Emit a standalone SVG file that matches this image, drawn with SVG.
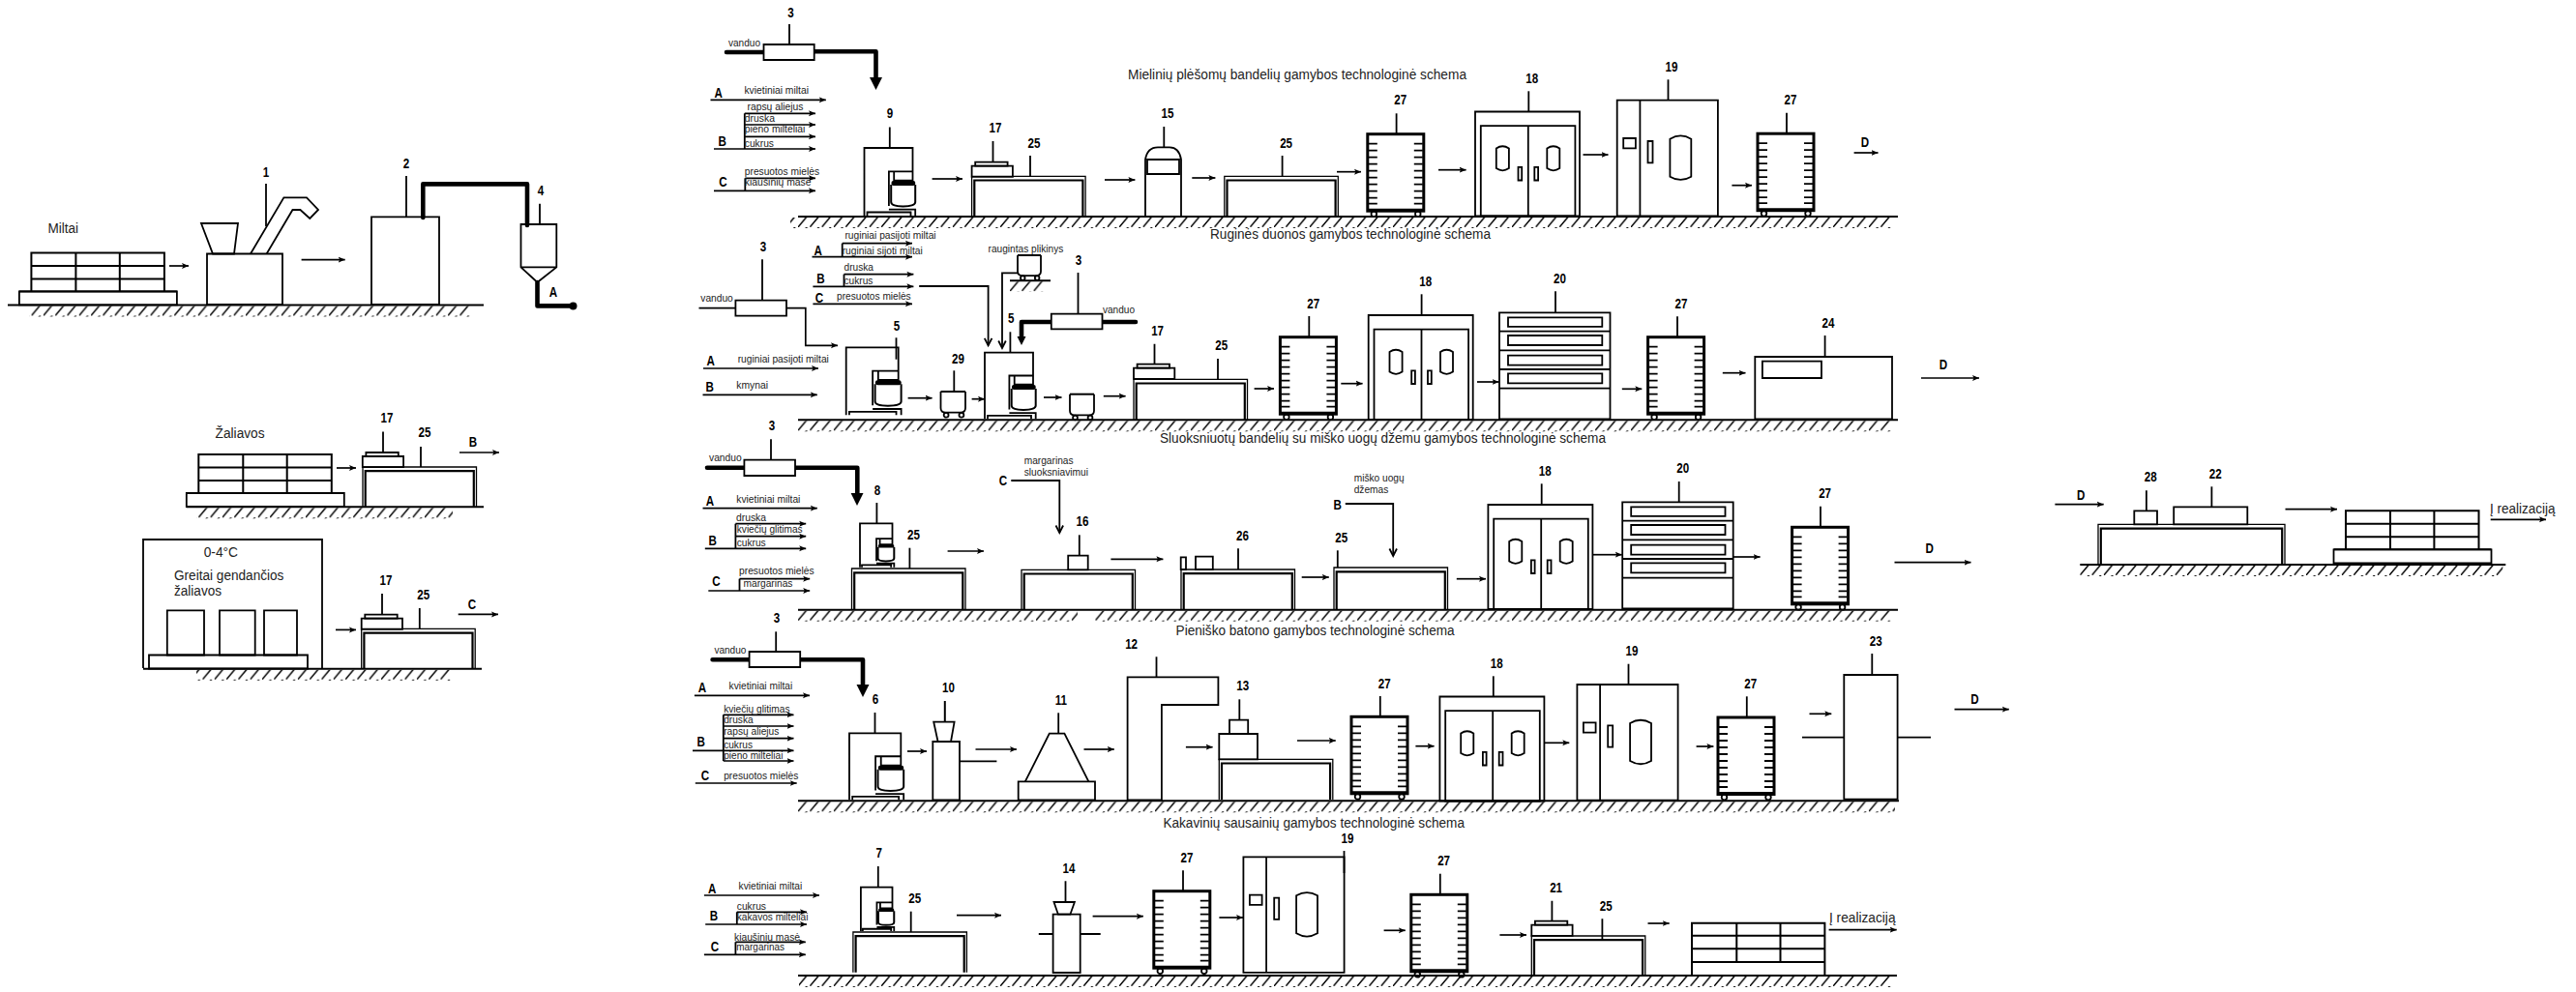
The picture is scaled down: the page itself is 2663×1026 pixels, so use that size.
<svg xmlns="http://www.w3.org/2000/svg" width="2663" height="1026" viewBox="0 0 2663 1026">
<style>
text{font-family:"Liberation Sans",Arial,sans-serif;fill:#222;dominant-baseline:central}
.s{font-size:11px}.m{font-size:14px}.h{font-size:14px}
.n{font-size:14.5px;font-weight:bold;fill:#000;text-anchor:middle}
.l,.a,.v,.g{fill:none;stroke:#000;stroke-width:1.8;vector-effect:non-scaling-stroke}
.f{fill:#fff;stroke:#000;stroke-width:1.8;vector-effect:non-scaling-stroke}
.a{stroke-width:1.7;marker-end:url(#ah)}
.v{marker-end:url(#av)}
.b{fill:none;stroke:#000;stroke-width:4.6;stroke-linecap:round;stroke-linejoin:round}
.k{fill:#000}
.r{fill:none;stroke:#000;stroke-width:3}
.g{stroke-width:2}
.o{fill:none;stroke:#000;stroke-width:1.3}
.i{fill:none;stroke:#000;stroke-width:2.2}
</style>
<defs>
<pattern id="h" patternUnits="userSpaceOnUse" width="12.3" height="11"><path d="M9.6 -.6L-.6 11.6" fill="none" stroke="#000" stroke-width="1.5"/></pattern>
<marker id="ah" markerUnits="userSpaceOnUse" markerWidth="10" markerHeight="8" refX="7" refY="4" orient="auto"><path d="M0 1L7 4L0 7L1.5 4z"/></marker>
<marker id="av" markerUnits="userSpaceOnUse" markerWidth="12" markerHeight="12" refX="10" refY="6" orient="auto" overflow="visible"><path d="M2.5 2.2L10 6L2.5 9.8" fill="none" stroke="#000" stroke-width="1.8"/></marker>
<g id="table"><path class="o" d="M0 41.7V0H117.5V41.7"/><path class="i" d="M2.7 41.7V4.2H114.8V41.7"/></g>
<g id="scale"><rect class="l" x="3.6" width="33.4" height="4"/><rect class="l" y="4" width="42.3" height="11.2"/></g>
<g id="stack"><rect class="l" x="-12.5" y="40" width="163" height="14"/><path class="g" d="M0 40V0H137.5V40M0 13.5H137.5M0 27H137.5M46 0V40M91.4 0V40M-12.5 40H150.5"/></g>
<g id="mixer"><path class="l" d="M0 70V0H50V24.3H25.4V60M30.7 24.3V33.7H50V24.3M25.4 63.7H52.7V70M3 70V66.5H48V70"/><path class="g" d="M27.7 38V56Q27.7 60.3 40 60.5Q52.7 60.3 52.7 56V38"/><rect class="k" x="28" y="34" width="24.7" height="5" rx="2"/></g>
<g id="rack"><rect class="r" x="0" y="0" width="58" height="79.5"/><path class="r" d="M0 78.5H58" stroke-width="4"/><path class="l" stroke-width="2" d="M1 10H10M1 17H10M1 24H10M1 31H10M1 38H10M1 45H10M1 52H10M1 59H10M1 66H10M1 72H10M48 10H57M48 17H57M48 24H57M48 31H57M48 38H57M48 45H57M48 52H57M48 59H57M48 66H57M48 72H57"/><circle class="l" cx="6.5" cy="82.6" r="2.8"/><circle class="l" cx="52" cy="82.6" r="2.8"/></g>
<g id="proof"><rect class="l" width="108" height="108"/><rect class="l" x="5.8" y="14.7" width="97.6" height="93.3"/><path class="l" d="M54.8 14.7V108"/><path class="l" d="M21.8 38Q28.3 33.5 34.9 38V58.6Q28.3 63 21.8 58.6Z"/><path class="l" d="M74.3 38Q80.8 33.5 87.3 38V58.6Q80.8 63 74.3 58.6Z"/><rect class="l" x="44.5" y="57.3" width="3.7" height="13.7"/><rect class="l" x="61.3" y="57.3" width="3.8" height="13.7"/></g>
<g id="oven"><rect class="l" width="104.2" height="119.6"/><path class="l" d="M23.7 0V119.6"/><rect class="l" x="6.5" y="39.3" width="12.7" height="10.3"/><rect class="l" x="31.8" y="42.3" width="5" height="22.3"/><path class="l" d="M54.7 40Q65.6 33.5 76.6 40V79Q65.6 85.5 54.7 79Z"/></g>
<g id="deck"><rect class="l" width="114.5" height="110"/><path class="l" d="M0 19.4H114.5M0 39H114.5M0 58.7H114.5M0 78.4H114.5"/><rect class="l" x="9" y="5" width="97.3" height="9.5"/><rect class="l" x="9" y="23.7" width="97.3" height="10"/><rect class="l" x="9" y="44.4" width="97.3" height="10"/><rect class="l" x="9" y="63" width="97.3" height="10"/></g>
<g id="tank"><path class="l" d="M0 0V17Q0 21.7 5 21.7H20Q25 21.7 25 17V0"/><path class="g" d="M0 0H25"/><circle class="l" cx="5.5" cy="24.3" r="2.4"/><circle class="l" cx="21" cy="24.3" r="2.4"/></g>
</defs>
<rect width="2663" height="1026" fill="#fff"/>

<g id="ground-lines">
<g transform="translate(8,315.5)"><path class="g" d="M0 0H492"/><rect x="22" y="1" width="456" height="11" fill="url(#h)"/></g>
<g transform="translate(193,524.3)"><path class="g" d="M0 0H307"/><rect x="10" y="1" width="265" height="11" fill="url(#h)"/></g>
<g transform="translate(148,691.8)"><path class="g" d="M0 0H350"/><rect x="55" y="1" width="264" height="11" fill="url(#h)"/></g>
<g transform="translate(825,224)"><path class="g" d="M0 0H1137"/><rect x="-8" y="1" width="1138" height="11" fill="url(#h)"/></g>
<g transform="translate(825,434.3)"><path class="g" d="M0 0H1137"/><rect x="-1" y="1" width="1131" height="11" fill="url(#h)"/></g>
<g transform="translate(825,630.7)"><path class="g" d="M0 0H1137"/><rect x="-1" y="1" width="290" height="11" fill="url(#h)"/><rect x="306" y="1" width="825" height="11" fill="url(#h)"/></g>
<g transform="translate(825,828.3)"><path class="g" d="M0 0H1138"/><rect x="-1" y="1" width="1135" height="11" fill="url(#h)"/></g>
<g transform="translate(825,1009)"><path class="g" d="M0 0H1136"/><rect x="1" y="1" width="1130" height="11" fill="url(#h)"/></g>
<g transform="translate(2150.3,584)"><path class="g" d="M0 0H440"/><rect y="1" width="437" height="11" fill="url(#h)"/></g>
<g transform="translate(1044,290.3)"><path class="g" d="M0 0H42"/><rect x="0" y="1" width="35" height="10" fill="url(#h)"/></g>
</g>

<g id="connectors">
<path class="a" d="M175 275H195"/><path class="a" d="M311.6 268.6H356.7"/>
<path class="a" d="M348 484H368"/><path class="a" d="M475 468H516"/>
<path class="a" d="M347 651.4H368"/><path class="a" d="M473.7 635.4H515"/>
<path class="b" d="M437.3 225V190.4H545V233"/><path class="b" d="M555.5 292V316.4H590"/><circle class="k" cx="592.5" cy="316.4" r="4"/>
<!-- section 1 -->
<path class="a" d="M734.5 103.3H853.8"/>
<path class="a" d="M769.8 117.3H843"/><path class="a" d="M769.8 129H843"/><path class="a" d="M769.8 141.3H843"/><path class="a" d="M738 154H843"/><path class="l" d="M769.8 117.3V154"/>
<path class="a" d="M770.3 184.3H843"/><path class="a" d="M738 197.3H843"/><path class="l" d="M770.3 184.3V197.3"/>
<path class="a" d="M963.6 185H995"/><path class="a" d="M1142 186H1173.4"/><path class="a" d="M1232.3 184H1256.4"/><path class="a" d="M1382 177.7H1407"/><path class="a" d="M1487 175.7H1515.6"/><path class="a" d="M1636.5 160H1662.5"/><path class="a" d="M1790.4 191.7H1811"/><path class="a" d="M1916.6 158H1941.5"/>
<!-- section 2 -->
<path class="a" d="M870.7 251.7H943"/><path class="a" d="M839.5 265.7H943"/><path class="l" d="M870.7 251.7V265.7"/>
<path class="a" d="M872.5 283.7H944.4"/><path class="a" d="M840.4 296.3H944.4"/><path class="l" d="M872.5 283.7V296.3"/>
<path class="a" d="M840.4 314.3H943"/>
<path class="v" d="M950.2 296H1021.6V357.3"/><path class="v" d="M1052 282.3H1036V360"/>
<path class="a" d="M722.5 318.7H760.4"  style="marker-end:none"/><path class="a" d="M813 318.7H832.8V357.3H866"/>
<path class="a" d="M727 381H846"/><path class="a" d="M726.5 408.3H844.8"/>
<path class="a" d="M938.6 411.7H963.6"/><path class="a" d="M1004.6 412.7H1018"/><path class="a" d="M1079 411H1097.5"/><path class="a" d="M1140.8 409.7H1163.6"/><path class="a" d="M1296.6 402H1317"/><path class="a" d="M1386.3 396.7H1408.6"/><path class="a" d="M1527 395H1549.6"/><path class="a" d="M1676.8 402.3H1697.3"/><path class="a" d="M1780.8 385.7H1804.5"/><path class="a" d="M1986 391H2046"/>
<!-- section 3 -->
<path class="a" d="M726.5 525.7H844.8"/>
<path class="a" d="M760.4 541.7H833.2"/><path class="a" d="M760.4 554.7H833.2"/><path class="a" d="M728.8 567.3H833.2"/><path class="l" d="M760.4 541.7V567.3"/>
<path class="a" d="M764.5 598.7H837.2"/><path class="a" d="M732.3 611H837.2"/><path class="l" d="M764.5 598.7V611"/>
<path class="a" d="M979.6 570H1017"/><path class="v" d="M1045.3 497H1095.3V551"/><path class="a" d="M1148.4 578.3H1202.4"/><path class="a" d="M1345.7 597H1373.8"/><path class="v" d="M1390.8 521H1440.2V575"/><path class="a" d="M1505.8 598.7H1536"/><path class="a" d="M1646.4 573.7H1676.8"/><path class="a" d="M1792 576H1819.6"/><path class="a" d="M1958.5 581.7H2037.5"/>
<!-- section 4 -->
<path class="a" d="M717.9 719.3H837"/>
<path class="a" d="M747.8 739.3H820.5"/><path class="a" d="M747.8 751H820.5"/><path class="a" d="M747.8 763.7H820.5"/><path class="a" d="M716 776.3H820.5"/><path class="a" d="M747.8 787H820.5"/><path class="l" d="M747.8 739.3V787"/>
<path class="a" d="M718.8 810H823.7"/>
<path class="a" d="M938 777H958"/><path class="a" d="M1008.5 775H1051"/><path class="a" d="M1120.5 775H1151.8"/><path class="a" d="M1225.9 772.7H1253.6"/><path class="a" d="M1341 766H1380.8"/><path class="a" d="M1463.4 771.7H1482.6"/><path class="a" d="M1596.9 768.3H1622.3"/><path class="a" d="M1753.6 772H1771.4"/><path class="a" d="M1870.5 738.3H1893.3"/><path class="a" d="M2020.5 733.7H2076.8"/>
<!-- section 5 -->
<path class="a" d="M727.9 926H847"/>
<path class="a" d="M761.8 943.3H834"/><path class="a" d="M729.2 956H834"/><path class="l" d="M761.8 943.3V956"/>
<path class="a" d="M760.4 974.3H832.8"/><path class="a" d="M727.9 987.3H832.8"/><path class="l" d="M760.4 974.3V987.3"/>
<path class="a" d="M989 946.7H1035"/><path class="a" d="M1129.6 947.7H1181.9"/><path class="a" d="M1260.4 949H1285"/><path class="a" d="M1430.6 962.3H1452.8"/><path class="a" d="M1550.4 967H1578"/><path class="a" d="M1703.5 955H1725.7"/><path class="a" d="M1890.6 961.7H1960.7"/>
<!-- right -->
<path class="a" d="M2124.4 521.7H2174.7"/><path class="a" d="M2362.5 526.7H2416"/><path class="a" d="M2574.7 537.3H2632"/>
</g>

<g id="left-miltai">
<use href="#stack" transform="translate(32.4,261.4)"/>
<text class="m" x="49.4" y="235.7" textLength="31.6" lengthAdjust="spacingAndGlyphs">Miltai</text>
<g id="m1"><path class="l" d="M208 231H246L242 262.5H220Z"/><rect class="l" x="214" y="262.5" width="78" height="52.5"/><path class="l" d="M259 262.5L293.4 204.3H317L329 217L320.3 226L310.4 217H302.5L275.6 262.5"/><path class="l" d="M275 234V190"/><text class="n" transform="matrix(.8 0 0 1 275 178)">1</text></g>
<g id="m2"><rect class="l" x="384" y="224.3" width="70" height="90.7"/><path class="l" d="M420 224V182"/><text class="n" transform="matrix(.8 0 0 1 420 168.6)">2</text></g>
<g id="m4"><path class="l" d="M538.5 232H575.3V276.4L555.5 292L538.5 276.4ZM538.5 276.4H575.3M558 232V210.7"/><text class="n" transform="matrix(.8 0 0 1 559 197)">4</text><text class="n" transform="matrix(.8 0 0 1 572 302)">A</text></g>
</g>

<g id="left-zaliavos">
<text class="m" x="222.6" y="447.5" textLength="51" lengthAdjust="spacingAndGlyphs">Žaliavos</text>
<use href="#stack" transform="translate(205.3,470)"/>
<use href="#table" transform="translate(375,483)scale(1,.98)"/><use href="#scale" transform="translate(374.8,468)"/>
<path class="l" d="M396 468V446.4M435 483V462"/>
<text class="n" transform="matrix(.8 0 0 1 400 432.5)">17</text><text class="n" transform="matrix(.8 0 0 1 439 447.5)">25</text><text class="n" transform="matrix(.8 0 0 1 489 457)">B</text>
</g>

<g id="left-cold">
<path class="l" d="M148 691V558H333V691"/>
<text class="m" x="210.7" y="571.4" textLength="35.3" lengthAdjust="spacingAndGlyphs">0-4°C</text>
<text class="m" x="180" y="595.4" textLength="113.4" lengthAdjust="spacingAndGlyphs">Greitai gendančios</text>
<text class="m" x="180" y="611.4" textLength="49" lengthAdjust="spacingAndGlyphs">žaliavos</text>
<rect class="l" x="154" y="677.5" width="164" height="14"/>
<rect class="l" x="172.8" y="631.4" width="38.2" height="46.1"/><rect class="l" x="227" y="631.4" width="36.7" height="46.1"/><rect class="l" x="273" y="631.4" width="34" height="46.1"/>
<use href="#table" transform="translate(373.7,650.4)"/><use href="#scale" transform="translate(373.7,635.7)"/>
<path class="l" d="M395 635.7V614M433.8 650V629"/>
<text class="n" transform="matrix(.8 0 0 1 399 600)">17</text><text class="n" transform="matrix(.8 0 0 1 437.7 615.4)">25</text><text class="n" transform="matrix(.8 0 0 1 488 625)">C</text>
</g>

<g id="section-1">
<text class="h" x="1166" y="76.5" textLength="350" lengthAdjust="spacingAndGlyphs">Mielinių plėšomų bandelių gamybos technologinė schema</text>
<g id="s1-water"><path class="b" d="M751 54H789.5M841.7 53.3H905.5V82"/><path class="k" d="M899 80H912L905.5 93Z"/><rect class="f" x="789.5" y="46" width="52.2" height="16"/><path class="l" d="M816 46V25"/><text class="n" transform="matrix(.8 0 0 1 817.6 13.3)">3</text><text class="s" x="753" y="44" textLength="33" lengthAdjust="spacingAndGlyphs">vanduo</text></g>
<g id="s1-inputs">
<text class="n" transform="matrix(.8 0 0 1 742.6 95.7)">A</text><text class="s" x="769.4" y="92.7" textLength="66.6" lengthAdjust="spacingAndGlyphs">kvietiniai miltai</text>
<text class="s" x="772.5" y="110.3" textLength="58" lengthAdjust="spacingAndGlyphs">rapsų aliejus</text><text class="s" x="769.8" y="122" textLength="31.2" lengthAdjust="spacingAndGlyphs">druska</text><text class="s" x="769.8" y="133" textLength="62.5" lengthAdjust="spacingAndGlyphs">pieno milteliai</text><text class="s" x="769.8" y="147.7" textLength="30.2" lengthAdjust="spacingAndGlyphs">cukrus</text><text class="n" transform="matrix(.8 0 0 1 746.6 145.7)">B</text>
<text class="s" x="769.8" y="177" textLength="77.2" lengthAdjust="spacingAndGlyphs">presuotos mielės</text><text class="s" x="769.8" y="188.3" textLength="68.8" lengthAdjust="spacingAndGlyphs">kiaušinių masė</text><text class="n" transform="matrix(.8 0 0 1 747.5 188.3)">C</text>
</g>
<g id="s1-9"><use href="#mixer" transform="translate(893.5,153)"/><path class="l" d="M919.8 153V131.5"/><text class="n" transform="matrix(.8 0 0 1 920 117)">9</text></g>
<g id="s1-17"><use href="#table" transform="translate(1004.6,182.3)"/><use href="#scale" transform="translate(1004.6,167.7)"/><path class="l" d="M1026.5 167.7V146M1065 182.3V161"/><text class="n" transform="matrix(.8 0 0 1 1029 132.3)">17</text><text class="n" transform="matrix(.8 0 0 1 1069 147.7)">25</text></g>
<g id="s1-15"><path class="l" d="M1184 223V165Q1186 152.3 1197 152.3H1209Q1219 152.3 1221 165V223"/><rect class="l" x="1186" y="165" width="33" height="15"/><path class="l" d="M1203.3 152.3V131"/><text class="n" transform="matrix(.8 0 0 1 1207 117.3)">15</text></g>
<g id="s1-25"><use href="#table" transform="translate(1265.8,182.3)"/><path class="l" d="M1325.6 182V161"/><text class="n" transform="matrix(.8 0 0 1 1329.6 147.7)">25</text></g>
<g id="s1-27a"><use href="#rack" transform="translate(1413.8,138.7)"/><path class="l" d="M1443.6 138.7V117.3" stroke-width="2"/><text class="n" transform="matrix(.8 0 0 1 1447.8 103.3)">27</text></g>
<g id="s1-18"><use href="#proof" transform="translate(1525,115.5)"/><path class="l" d="M1580.3 116V94.3"/><text class="n" transform="matrix(.8 0 0 1 1583.7 80.7)">18</text></g>
<g id="s1-19"><use href="#oven" transform="translate(1671.7,103.7)"/><path class="l" d="M1724.5 103.7V82.3"/><text class="n" transform="matrix(.8 0 0 1 1728 69)">19</text></g>
<g id="s1-27b"><use href="#rack" transform="translate(1817,138.2)"/><path class="l" d="M1847 138V116.7"/><text class="n" transform="matrix(.8 0 0 1 1851 102.7)">27</text><text class="n" transform="matrix(.8 0 0 1 1928 147.3)">D</text></g>
</g>

<g id="section-2">
<text class="h" x="1251" y="241.7" textLength="290" lengthAdjust="spacingAndGlyphs">Ruginės duonos gamybos technologinė schema</text>
<g id="s2-inputs">
<text class="s" x="873.4" y="242.7" textLength="94.2" lengthAdjust="spacingAndGlyphs">ruginiai pasijoti miltai</text><text class="s" x="870.7" y="258.7" textLength="83.1" lengthAdjust="spacingAndGlyphs">ruginiai sijoti miltai</text><text class="n" transform="matrix(.8 0 0 1 845.7 258.7)">A</text>
<text class="s" x="872.5" y="275.7" textLength="30.4" lengthAdjust="spacingAndGlyphs">druska</text><text class="s" x="872.5" y="289.7" textLength="29.9" lengthAdjust="spacingAndGlyphs">cukrus</text><text class="n" transform="matrix(.8 0 0 1 848.4 288)">B</text>
<text class="n" transform="matrix(.8 0 0 1 847 307.7)">C</text><text class="s" x="865" y="305.7" textLength="76.7" lengthAdjust="spacingAndGlyphs">presuotos mielės</text>
<text class="n" transform="matrix(.8 0 0 1 734.6 372.7)">A</text><text class="s" x="762.7" y="370.7" textLength="94.2" lengthAdjust="spacingAndGlyphs">ruginiai pasijoti miltai</text>
<text class="n" transform="matrix(.8 0 0 1 733.7 400)">B</text><text class="s" x="761.3" y="398.3" textLength="32.7" lengthAdjust="spacingAndGlyphs">kmynai</text>
</g>
<g id="s2-starter"><text class="s" x="1021.6" y="256.7" textLength="77.7" lengthAdjust="spacingAndGlyphs">raugintas plikinys</text><use href="#tank" transform="translate(1052,264)scale(.96,.97)"/></g>
<g id="s2-water-a"><rect class="f" x="760.4" y="310.7" width="52.6" height="16"/><path class="l" d="M788 310.7V268.3"/><text class="n" transform="matrix(.8 0 0 1 789 255)">3</text><text class="s" x="724.3" y="308" textLength="33.5" lengthAdjust="spacingAndGlyphs">vanduo</text></g>
<g id="s2-water-b"><path class="b" d="M1139.5 333H1174M1086.8 333H1056V350"/><path class="k" d="M1051.5 348H1060.5L1056 357Z"/><rect class="f" x="1086.8" y="324.7" width="52.7" height="15.6"/><path class="l" d="M1114.5 324.7V282"/><text class="n" transform="matrix(.8 0 0 1 1115 269.3)">3</text><text class="s" x="1140" y="319.7" textLength="33" lengthAdjust="spacingAndGlyphs">vanduo</text></g>
<g id="s2-5a"><use href="#mixer" transform="translate(874.7,359.3)scale(1.08,1)"/><path class="l" d="M926.5 349.3V371.7"/><text class="n" transform="matrix(.8 0 0 1 927 336.7)">5</text></g>
<g id="s2-29"><use href="#tank" transform="translate(972.5,405)scale(1.02,1)"/><path class="l" d="M986.3 405V383.3"/><text class="n" transform="matrix(.8 0 0 1 990.4 370.7)">29</text></g>
<g id="s2-5b"><use href="#mixer" transform="translate(1018,364.7)scale(1,.98)"/><path class="l" d="M1044.4 364.7V343.3"/><text class="n" transform="matrix(.8 0 0 1 1045.3 329.3)">5</text></g>
<g id="s2-tank"><use href="#tank" transform="translate(1106,407.7)"/></g>
<g id="s2-17"><use href="#table" transform="translate(1172,392.3)"/><use href="#scale" transform="translate(1172,376.7)"/><path class="l" d="M1193.5 376.7V355.7M1259 392.3V371"/><text class="n" transform="matrix(.8 0 0 1 1196.6 342.3)">17</text><text class="n" transform="matrix(.8 0 0 1 1262.7 357.3)">25</text></g>
<g id="s2-27a"><use href="#rack" transform="translate(1323.4,348.7)"/><path class="l" d="M1353.3 348.7V327"/><text class="n" transform="matrix(.8 0 0 1 1357.8 314)">27</text></g>
<g id="s2-18"><use href="#proof" transform="translate(1414.7,326)"/><path class="l" d="M1469.6 326V304.3"/><text class="n" transform="matrix(.8 0 0 1 1473.7 290.7)">18</text></g>
<g id="s2-20"><use href="#deck" transform="translate(1550,323.3)"/><path class="l" d="M1608 323.3V301.3"/><text class="n" transform="matrix(.8 0 0 1 1612.5 288)">20</text></g>
<g id="s2-27b"><use href="#rack" transform="translate(1703.6,348.7)"/><path class="l" d="M1734 348.7V327.3"/><text class="n" transform="matrix(.8 0 0 1 1738 314.3)">27</text></g>
<g id="s2-24"><rect class="l" x="1814.3" y="369" width="141.7" height="64.3"/><rect class="l" x="1821.9" y="373.7" width="61.1" height="17.3"/><path class="l" d="M1886.6 369V347"/><text class="n" transform="matrix(.8 0 0 1 1890 334)">24</text><text class="n" transform="matrix(.8 0 0 1 2009 377.3)">D</text></g>
</g>

<g id="section-3">
<text class="h" x="1199" y="453" textLength="461" lengthAdjust="spacingAndGlyphs">Sluoksniuotų bandelių su miško uogų džemu gamybos technologinė schema</text>
<g id="s3-water"><path class="b" d="M731 483.7H769.4M822 483.7H886.3V512"/><path class="k" d="M879.6 510H892.5L886 523Z"/><rect class="f" x="769.4" y="475.7" width="52.6" height="16.3"/><path class="l" d="M797 475.7V454.3"/><text class="n" transform="matrix(.8 0 0 1 798 440)">3</text><text class="s" x="733" y="472.7" textLength="33.7" lengthAdjust="spacingAndGlyphs">vanduo</text></g>
<g id="s3-inputs">
<text class="n" transform="matrix(.8 0 0 1 734 518.3)">A</text><text class="s" x="761.3" y="516" textLength="66.1" lengthAdjust="spacingAndGlyphs">kvietiniai miltai</text>
<text class="s" x="761" y="535" textLength="31" lengthAdjust="spacingAndGlyphs">druska</text><text class="s" x="761.8" y="546.7" textLength="67.8" lengthAdjust="spacingAndGlyphs">kviečių glitimas</text><text class="s" x="761.8" y="560.7" textLength="29.9" lengthAdjust="spacingAndGlyphs">cukrus</text><text class="n" transform="matrix(.8 0 0 1 736.8 559)">B</text>
<text class="s" x="764" y="590" textLength="77.7" lengthAdjust="spacingAndGlyphs">presuotos mielės</text><text class="s" x="768.5" y="603.3" textLength="50.9" lengthAdjust="spacingAndGlyphs">margarinas</text><text class="n" transform="matrix(.8 0 0 1 740.4 600.7)">C</text>
</g>
<g id="s3-8"><use href="#mixer" transform="translate(889,541.3)scale(.67,.648)"/><path class="l" d="M906.4 541.3V520"/><text class="n" transform="matrix(.8 0 0 1 907 506.7)">8</text></g>
<g id="s3-25a"><use href="#table" transform="translate(880.5,588)scale(1,1.02)"/><path class="l" d="M940.4 588V566.7"/><text class="n" transform="matrix(.8 0 0 1 944.4 553.3)">25</text></g>
<g id="s3-16"><text class="n" transform="matrix(.8 0 0 1 1037 497.3)">C</text><text class="s" x="1058.7" y="476" textLength="50.9" lengthAdjust="spacingAndGlyphs">margarinas</text><text class="s" x="1058.7" y="488.3" textLength="66.3" lengthAdjust="spacingAndGlyphs">sluoksniavimui</text><use href="#table" transform="translate(1056,589.3)"/><rect class="l" x="1104.2" y="574.7" width="20.5" height="14.6"/><path class="l" d="M1115.8 574.7V553.3"/><text class="n" transform="matrix(.8 0 0 1 1119 539.3)">16</text></g>
<g id="s3-26"><use href="#table" transform="translate(1221,589)"/><rect class="l" x="1220.7" y="576.3" width="5.3" height="12.7"/><rect class="l" x="1236" y="575.7" width="17.8" height="13.3"/><path class="l" d="M1280 589V567.3"/><text class="n" transform="matrix(.8 0 0 1 1284.5 554)">26</text></g>
<g id="s3-25b"><use href="#table" transform="translate(1379,587)scale(1,1.05)"/><path class="l" d="M1382.8 587V569.3"/><text class="n" transform="matrix(.8 0 0 1 1386.8 555.7)">25</text><text class="s" x="1399.7" y="494.3" textLength="52" lengthAdjust="spacingAndGlyphs">miško uogų</text><text class="s" x="1399.7" y="506" textLength="35.6" lengthAdjust="spacingAndGlyphs">džemas</text><text class="n" transform="matrix(.8 0 0 1 1382.8 521.7)">B</text></g>
<g id="s3-18"><use href="#proof" transform="translate(1538.4,522)"/><path class="l" d="M1593.7 522V500.3"/><text class="n" transform="matrix(.8 0 0 1 1597.3 487)">18</text></g>
<g id="s3-20"><use href="#deck" transform="translate(1677.2,519.3)"/><path class="l" d="M1735.7 519.3V498"/><text class="n" transform="matrix(.8 0 0 1 1739.7 484.3)">20</text></g>
<g id="s3-27"><use href="#rack" transform="translate(1852.6,545.3)"/><path class="l" d="M1882 545.3V523.7"/><text class="n" transform="matrix(.8 0 0 1 1886.6 510)">27</text><text class="n" transform="matrix(.8 0 0 1 1994.6 567)">D</text></g>
</g>

<g id="section-4">
<text class="h" x="1215.6" y="651.7" textLength="288" lengthAdjust="spacingAndGlyphs">Pieniško batono gamybos technologinė schema</text>
<g id="s4-water"><path class="b" d="M736.6 682.3H774.6M827.2 682.3H892V710"/><path class="k" d="M885.5 708H898.5L892 721Z"/><rect class="f" x="774.6" y="674" width="52.6" height="16"/><path class="l" d="M802.2 674V653.3"/><text class="n" transform="matrix(.8 0 0 1 803 639)">3</text><text class="s" x="738.4" y="671.7" textLength="33" lengthAdjust="spacingAndGlyphs">vanduo</text></g>
<g id="s4-inputs">
<text class="n" transform="matrix(.8 0 0 1 725.9 711)">A</text><text class="s" x="753.6" y="709.3" textLength="65.6" lengthAdjust="spacingAndGlyphs">kvietiniai miltai</text>
<text class="s" x="748.2" y="732.7" textLength="68.3" lengthAdjust="spacingAndGlyphs">kviečių glitimas</text><text class="s" x="748.2" y="744" textLength="30.4" lengthAdjust="spacingAndGlyphs">druska</text><text class="s" x="748.2" y="755.7" textLength="57.2" lengthAdjust="spacingAndGlyphs">rapsų aliejus</text><text class="s" x="748.2" y="770" textLength="29.8" lengthAdjust="spacingAndGlyphs">cukrus</text><text class="s" x="748.2" y="781" textLength="61.2" lengthAdjust="spacingAndGlyphs">pieno milteliai</text><text class="n" transform="matrix(.8 0 0 1 724.6 767.3)">B</text>
<text class="n" transform="matrix(.8 0 0 1 729 802.3)">C</text><text class="s" x="748.2" y="801.7" textLength="77.2" lengthAdjust="spacingAndGlyphs">presuotos mielės</text>
</g>
<g id="s4-6"><use href="#mixer" transform="translate(878,758.3)scale(1.066,.986)"/><path class="l" d="M904.5 758.3V737"/><text class="n" transform="matrix(.8 0 0 1 905 723)">6</text></g>
<g id="s4-10"><rect class="l" x="964.3" y="767" width="27.7" height="60.3"/><path class="l" d="M965.2 746.7H986.6L983 767H969.6Z"/><path class="l" d="M992 787.3H1030.4"/><path class="g" d="M976.8 746.7V725"/><text class="n" transform="matrix(.8 0 0 1 980.4 711.3)">10</text></g>
<g id="s4-11"><path class="l" d="M1059.8 808.3L1084.8 758.7H1100.4L1125.4 808.3"/><rect class="l" x="1052.7" y="808.3" width="79.3" height="19"/><path class="l" d="M1094.2 758.7V737.3"/><text class="n" transform="matrix(.8 0 0 1 1096.9 724)">11</text></g>
<g id="s4-12"><path class="l" d="M1165.6 827.3V700.3H1259.4V729H1200.9V827.3Z"/><path class="l" d="M1195.5 700.3V679.3"/><text class="n" transform="matrix(.8 0 0 1 1169.6 665.7)">12</text></g>
<g id="s4-13"><use href="#table" transform="translate(1260.3,785.3)"/><rect class="l" x="1260.3" y="759" width="39.7" height="26.3"/><rect class="l" x="1271" y="744.7" width="19.2" height="14.3"/><path class="l" d="M1281.3 744.7V723.3"/><text class="n" transform="matrix(.8 0 0 1 1284.8 709.3)">13</text></g>
<g id="s4-27a"><use href="#rack" transform="translate(1397,741.3)"/><path class="l" d="M1426.8 741.3V720"/><text class="n" transform="matrix(.8 0 0 1 1431.3 706.7)">27</text></g>
<g id="s4-18"><use href="#proof" transform="translate(1488.4,720.5)"/><path class="l" d="M1543.8 720.7V699.3"/><text class="n" transform="matrix(.8 0 0 1 1547.3 685.7)">18</text></g>
<g id="s4-19"><use href="#oven" transform="translate(1630.4,708)"/><path class="l" d="M1683.5 708V686.7"/><text class="n" transform="matrix(.8 0 0 1 1687 673)">19</text></g>
<g id="s4-27b"><use href="#rack" transform="translate(1776,742)"/><path class="l" d="M1805.8 742V720.3"/><text class="n" transform="matrix(.8 0 0 1 1809.8 707)">27</text></g>
<g id="s4-23"><rect class="l" x="1906.3" y="698" width="55.3" height="128.7"/><path class="l" d="M1863 762.7H1906.3M1961.6 762.7H1996M1935.3 698V676"/><text class="n" transform="matrix(.8 0 0 1 1939.3 663)">23</text><text class="n" transform="matrix(.8 0 0 1 2041.5 722.7)">D</text></g>
</g>

<g id="section-5">
<text class="h" x="1202.4" y="850.7" textLength="311.6" lengthAdjust="spacingAndGlyphs">Kakavinių sausainių gamybos technologinė schema</text>
<g id="s5-inputs">
<text class="n" transform="matrix(.8 0 0 1 736.3 918.7)">A</text><text class="s" x="763.6" y="916.3" textLength="65.6" lengthAdjust="spacingAndGlyphs">kvietiniai miltai</text>
<text class="s" x="761.8" y="937" textLength="30.2" lengthAdjust="spacingAndGlyphs">cukrus</text><text class="s" x="761.8" y="948" textLength="73.6" lengthAdjust="spacingAndGlyphs">kakavos milteliai</text><text class="n" transform="matrix(.8 0 0 1 738 947)">B</text>
<text class="s" x="759" y="969.3" textLength="68" lengthAdjust="spacingAndGlyphs">kiaušinių masė</text><text class="s" x="761.3" y="979" textLength="49.6" lengthAdjust="spacingAndGlyphs">margarinas</text><text class="n" transform="matrix(.8 0 0 1 739 978.7)">C</text>
</g>
<g id="s5-7"><use href="#mixer" transform="translate(889.9,917.7)scale(.652,.647)"/><path class="l" d="M907.8 917.7V896"/><text class="n" transform="matrix(.8 0 0 1 908.7 882.3)">7</text></g>
<g id="s5-25a"><use href="#table" transform="translate(881.9,964)"/><path class="l" d="M941.7 964V942.7"/><text class="n" transform="matrix(.8 0 0 1 945.7 929.3)">25</text></g>
<g id="s5-14"><rect class="l" x="1088.6" y="945.7" width="28.1" height="60.3"/><path class="l" d="M1089.5 933H1110.9L1106.4 945.7H1093.9Z"/><path class="l" d="M1073.8 966H1088.6M1116.7 966H1137.7M1101.5 933V911.3"/><text class="n" transform="matrix(.8 0 0 1 1105 898)">14</text></g>
<g id="s5-27a"><use href="#rack" transform="translate(1192.8,921.7)"/><path class="l" d="M1223 921.7V900.3"/><text class="n" transform="matrix(.8 0 0 1 1227 886.7)">27</text></g>
<g id="s5-19"><use href="#oven" transform="translate(1285.4,886.3)"/><path class="l" d="M1389.5 903V880"/><text class="n" transform="matrix(.8 0 0 1 1393 867.3)">19</text></g>
<g id="s5-27b"><use href="#rack" transform="translate(1458.8,925.3)"/><path class="l" d="M1488.8 925.3V903.7"/><text class="n" transform="matrix(.8 0 0 1 1492.6 890.3)">27</text></g>
<g id="s5-21"><use href="#table" transform="translate(1583.3,968)"/><use href="#scale" transform="translate(1583.3,952.7)"/><path class="l" d="M1604.4 952.7V931.7M1656.4 971V950.3"/><text class="n" transform="matrix(.8 0 0 1 1608.6 918.3)">21</text><text class="n" transform="matrix(.8 0 0 1 1660.2 937)">25</text></g>
<g id="s5-stack"><path class="g" d="M1749 1009V954.7H1886.4V1009M1749 967.7H1886.4M1749 981.3H1886.4M1749 995H1886.4M1795.3 954.7V995M1840.5 954.7V995"/><text class="m" x="1891" y="949" textLength="68.5" lengthAdjust="spacingAndGlyphs">Į realizaciją</text></g>
</g>

<g id="right-packing">
<text class="n" transform="matrix(.8 0 0 1 2151.3 511.7)">D</text>
<path class="o" d="M2169 584V542.3H2362V584"/><path class="i" d="M2171.8 584V546.7H2359.2V584"/>
<g id="r-28"><rect class="l" x="2206.3" y="528.3" width="23.7" height="14"/><path class="l" d="M2218.9 528.3V507.3"/><text class="n" transform="matrix(.8 0 0 1 2223.2 493.3)">28</text></g>
<g id="r-22"><rect class="l" x="2247.2" y="524.3" width="76.1" height="18"/><path class="l" d="M2286.4 524.3V503.3"/><text class="n" transform="matrix(.8 0 0 1 2290.3 489.7)">22</text></g>
<use href="#stack" transform="translate(2425,528.3)"/>
<text class="m" x="2574" y="525.7" textLength="67.5" lengthAdjust="spacingAndGlyphs">Į realizaciją</text>
</g>
</svg>
